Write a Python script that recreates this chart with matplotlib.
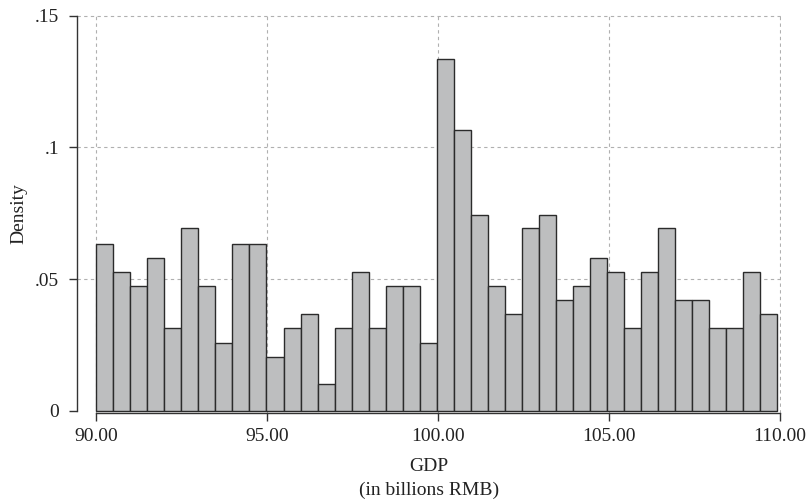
import numpy as np
import matplotlib
matplotlib.use("Agg")
import matplotlib.pyplot as plt

# Histogram of GDP (density), 40 bins from 90 to ~109.9
bin_start = 90.0
bin_end = 109.9
density = [0.0635, 0.0528, 0.0473, 0.0581, 0.0313, 0.0693, 0.0473, 0.0258, 0.0635, 0.0635,
           0.0206, 0.0313, 0.0367, 0.0103, 0.0313, 0.0528, 0.0313, 0.0473, 0.0473, 0.0258,
           0.1336, 0.1066, 0.0744, 0.0473, 0.0367, 0.0693, 0.0744, 0.0420, 0.0473, 0.0581,
           0.0528, 0.0313, 0.0528, 0.0693, 0.0420, 0.0420, 0.0313, 0.0313, 0.0528, 0.0367]
xticks = [90, 95, 100, 105, 110]
xtick_labels = ["90.00", "95.00", "100.00", "105.00", "110.00"]
yticks = [0, 0.05, 0.10, 0.15]
ytick_labels = ["0", ".05", ".1", ".15"]

plt.rcParams['font.family'] = ['Liberation Serif', 'DejaVu Serif']
FS = 14

fig = plt.figure(figsize=(8.12, 5.03), dpi=100)
ax = fig.add_axes([77/812, 1-413/503, (781-77)/812, (413-15)/503])

edges = np.linspace(bin_start, bin_end, len(density) + 1)
widths = np.diff(edges)
ax.bar(edges[:-1], density, width=widths, align='edge', color='#bdbebf',
       edgecolor='#2b2b2b', linewidth=1.0, zorder=3)

ax.set_xlim(89.43, 110.03)
ax.set_ylim(-0.0008, 0.1503)

ax.set_xticks(xticks)
ax.set_xticklabels(xtick_labels, fontsize=FS)
ax.set_yticks(yticks)
ax.set_yticklabels(ytick_labels, fontsize=FS)

for s in ['top', 'right']:
    ax.spines[s].set_visible(False)
ax.spines['left'].set_bounds(0, 0.15)
ax.spines['bottom'].set_bounds(90, 110)
for s in ['left', 'bottom']:
    ax.spines[s].set_color('#333333')
    ax.spines[s].set_linewidth(1.0)

ax.tick_params(axis='both', direction='out', length=6, width=1.0, colors='#333333',
               labelcolor='#222222')
ax.tick_params(axis='x', pad=5)
ax.tick_params(axis='y', pad=7)

for yv in yticks[1:]:
    ax.axhline(yv, color='#b0b0b0', linestyle=(0, (3, 3)), linewidth=0.8, zorder=1)
for xv in xticks:
    ax.axvline(xv, color='#b0b0b0', linestyle=(0, (3, 3)), linewidth=0.8, zorder=1)

ax.set_xlabel("GDP\n(in billions RMB)", fontsize=FS, color='#222222', labelpad=9,
              linespacing=1.55)
ax.set_ylabel("Density", fontsize=FS, color='#222222', labelpad=5)

fig.savefig("out.png", dpi=100)
